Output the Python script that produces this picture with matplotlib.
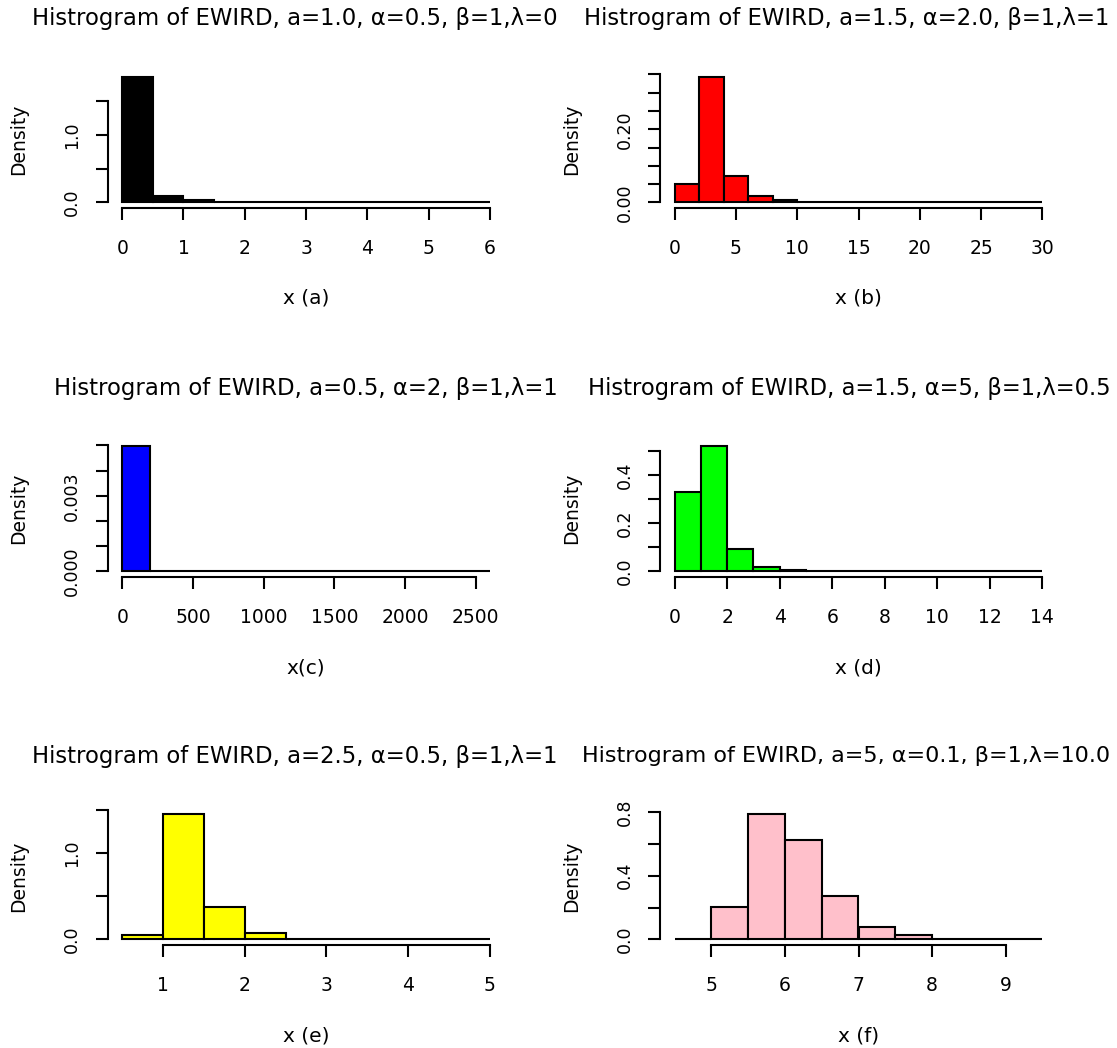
import numpy as np
import matplotlib.pyplot as plt

# 各ヒストグラムの階級の境界と密度
edges_a = [0, 0.5, 1, 1.5, 2, 2.5, 3, 3.5, 4, 4.5, 5, 5.5, 6]
dens_a = [1.86, 0.10, 0.04, 0, 0, 0, 0, 0, 0, 0, 0, 0]

edges_b = [0, 2, 4, 6, 8, 10, 12, 14, 16, 18, 20, 22, 24, 26, 28, 30]
dens_b = [0.050, 0.344, 0.073, 0.018, 0.0055, 0.002, 0.001, 0, 0, 0, 0, 0, 0, 0, 0.0005]

edges_c = [0, 200, 400, 600, 800, 1000, 1200, 1400, 1600, 1800, 2000, 2200, 2400, 2600]
dens_c = [0.00499, 0.00001, 0, 0, 0, 0, 0, 0, 0, 0, 0, 0, 0.000001]

edges_d = [0, 1, 2, 3, 4, 5, 6, 7, 8, 9, 10, 11, 12, 13, 14]
dens_d = [0.329, 0.524, 0.093, 0.018, 0.007, 0.002, 0.001, 0, 0, 0, 0, 0, 0, 0.0005]

edges_e = [0.5, 1.0, 1.5, 2.0, 2.5, 3.0, 3.5, 4.0, 4.5, 5.0]
dens_e = [0.047, 1.46, 0.378, 0.075, 0.006, 0.002, 0, 0, 0.001]

edges_f = [4.5, 5.0, 5.5, 6.0, 6.5, 7.0, 7.5, 8.0, 8.5, 9.0, 9.5]
dens_f = [0.001, 0.204, 0.790, 0.624, 0.272, 0.076, 0.028, 0.002, 0, 0.001]

# 目盛り
xticks_a = [0, 1, 2, 3, 4, 5, 6]
xticks_b = [0, 5, 10, 15, 20, 25, 30]
xticks_c = [0, 500, 1000, 1500, 2000, 2500]
xticks_d = [0, 2, 4, 6, 8, 10, 12, 14]
xticks_e = [1, 2, 3, 4, 5]
xticks_f = [5, 6, 7, 8, 9]

yticks_a = [0, 0.5, 1.0, 1.5]
ylabels_a = ['0.0', '', '1.0', '']
yticks_b = [0, 0.05, 0.10, 0.15, 0.20, 0.25, 0.30, 0.35]
ylabels_b = ['0.00', '', '', '', '0.20', '', '', '']
yticks_c = [0, 0.001, 0.002, 0.003, 0.004, 0.005]
ylabels_c = ['0.000', '', '', '0.003', '', '']
yticks_d = [0, 0.1, 0.2, 0.3, 0.4, 0.5]
ylabels_d = ['0.0', '', '0.2', '', '0.4', '']
yticks_e = [0, 0.5, 1.0, 1.5]
ylabels_e = ['0.0', '', '1.0', '']
yticks_f = [0, 0.2, 0.4, 0.6, 0.8]
ylabels_f = ['0.0', '', '0.4', '', '0.8']

titles = [
    'Histrogram of EWIRD, a=1.0, α=0.5, β=1,λ=0',
    'Histrogram of EWIRD, a=1.5, α=2.0, β=1,λ=1',
    'Histrogram of EWIRD, a=0.5, α=2, β=1,λ=1',
    'Histrogram of EWIRD, a=1.5, α=5, β=1,λ=0.5',
    'Histrogram of EWIRD, a=2.5, α=0.5, β=1,λ=1',
    'Histrogram of EWIRD, a=5, α=0.1, β=1,λ=10.0',
]
xlabels = ['x (a)', 'x (b)', 'x(c)', 'x (d)', 'x (e)', 'x (f)']
colors = ['black', 'red', 'blue', '#00FF00', 'yellow', 'pink']

edges_all = [edges_a, edges_b, edges_c, edges_d, edges_e, edges_f]
dens_all = [dens_a, dens_b, dens_c, dens_d, dens_e, dens_f]
xticks_all = [xticks_a, xticks_b, xticks_c, xticks_d, xticks_e, xticks_f]
yticks_all = [yticks_a, yticks_b, yticks_c, yticks_d, yticks_e, yticks_f]
ylabels_all = [ylabels_a, ylabels_b, ylabels_c, ylabels_d, ylabels_e, ylabels_f]

# レイアウト（ピクセル単位）
W, H = 1117, 1048
col_left = [107.5, 660]
row_top = [71.5, 440.5, 808.5]
aw, ah = 397, 136
title_left = [32, 584, 54, 588, 32, 582]
title_size = [16.4, 16.4, 16.4, 16.3, 16.4, 16.0]
lw = 1.5

fig = plt.figure(figsize=(W / 100, H / 100), dpi=100)

for i in range(6):
    r, c = i // 2, i % 2
    left, top = col_left[c], row_top[r]
    ax = fig.add_axes([left / W, 1 - (top + ah) / H, aw / W, ah / H])

    edges = np.array(edges_all[i], dtype=float)
    dens = np.array(dens_all[i], dtype=float)
    ax.bar(edges[:-1], dens, width=np.diff(edges), align='edge',
           color=colors[i], edgecolor='black', linewidth=lw)

    # Rの既定と同じく範囲を4%広げる
    lo, hi = edges[0], edges[-1]
    ax.set_xlim(lo - 0.04 * (hi - lo), hi + 0.04 * (hi - lo))
    ymax = dens.max()
    ax.set_ylim(-0.04 * ymax, 1.04 * ymax)

    xt = xticks_all[i]
    yt = yticks_all[i]
    ax.set_xticks(xt)
    ax.set_xticklabels([str(v) for v in xt], fontsize=13.5)
    ax.set_yticks(yt)
    ax.set_yticklabels(ylabels_all[i], rotation=90, va='center', fontsize=12.5)

    ax.spines[['top', 'right']].set_visible(False)
    ax.spines['left'].set_bounds(yt[0], yt[-1])
    ax.spines['bottom'].set_bounds(xt[0], xt[-1])
    for s in ['left', 'bottom']:
        ax.spines[s].set_linewidth(lw)
    ax.tick_params(axis='both', direction='out', length=8.6, width=lw)
    ax.tick_params(axis='x', pad=14)
    ax.tick_params(axis='y', pad=10.5)

    ax.set_xlabel(xlabels[i], fontsize=14.5, va='center')
    ax.xaxis.set_label_coords(0.5, -91 / ah)
    ax.set_ylabel('Density', fontsize=13.5, va='center')
    ax.yaxis.set_label_coords(-88.5 / aw, 0.5)

    fig.text(title_left[i] / W, 1 - (top - 46) / H, titles[i],
             ha='left', va='baseline', fontsize=title_size[i])

fig.savefig('out.png', dpi=100)
